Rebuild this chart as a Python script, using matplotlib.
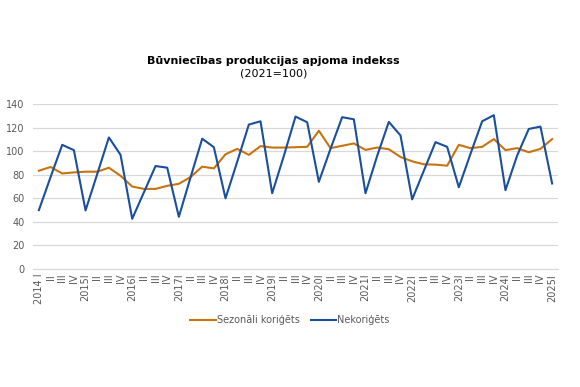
import numpy as np
import matplotlib.pyplot as plt

# quarterly labels 2014 I .. 2025 I
years = list(range(2014, 2026))
quarters = ["I", "II", "III", "IV"]
labels = []
for y in years:
    for q in quarters:
        if y == 2025 and q != "I":
            break
        if q == "I":
            labels.append("2014 I" if y == 2014 else str(y) + "I")
        else:
            labels.append(q)

# Sezonāli koriģēts
sa = [83.4, 86.6, 81.1, 82.0, 82.6, 82.6, 86.0, 79.1, 70.0, 68.0, 68.0, 70.6,
      72.3, 78.0, 86.9, 85.4, 97.4, 102.0, 96.9, 104.3, 103.1, 103.1, 103.4, 103.7,
      117.4, 102.6, 104.6, 106.6, 101.1, 103.1, 101.7, 95.1, 91.4, 88.9, 88.6, 87.7,
      105.4, 102.6, 103.7, 110.3, 100.9, 102.6, 99.1, 102.0, 110.3]
# Nekoriģēts
nsa = [50.0, 78.0, 105.4, 100.9, 49.7, 80.6, 111.7, 96.9, 42.6, 65.0, 87.4, 86.0,
       44.3, 77.7, 110.6, 103.4, 60.0, 91.0, 122.6, 125.4, 64.3, 96.0, 129.4, 124.6,
       74.0, 102.0, 128.9, 127.1, 64.3, 96.0, 124.9, 113.4, 59.1, 83.4, 107.7, 103.7,
       69.4, 97.7, 125.4, 130.6, 66.9, 96.3, 118.9, 120.9, 72.6]

x = np.arange(len(labels))
orange = '#C8730F'
blue = '#1A4F9E'
gray = '#595959'

fig = plt.figure(figsize=(5.8, 3.87), dpi=100)
ax = fig.add_axes([0.057, 0.305, 0.905, 0.426])

ax.plot(x, sa, color=orange, lw=1.5, label='Sezonāli koriģēts')
ax.plot(x, nsa, color=blue, lw=1.5, label='Nekoriģēts')

ax.set_xlim(-0.5, len(labels) - 0.5)
ax.set_ylim(0, 140)
ax.set_yticks(range(0, 141, 20))
ax.grid(axis='y', color='#D9D9D9', lw=0.9)
ax.set_axisbelow(True)
for s in ['top', 'right', 'left']:
    ax.spines[s].set_visible(False)
ax.spines['bottom'].set_color('#D9D9D9')
ax.tick_params(axis='both', length=0, colors=gray, labelsize=7)
ax.tick_params(axis='y', pad=6)
ax.set_xticks(x)
ax.set_xticklabels(labels, rotation=90, fontsize=7, color=gray)

fig.text(0.472, 0.842, 'Būvniecības produkcijas apjoma indekss', ha='center',
         va='center', fontsize=8, fontweight='bold', color='black')
fig.text(0.472, 0.811, '(2021=100)', ha='center', va='center', fontsize=8, color='black')

fig.legend(loc='center', bbox_to_anchor=(0.5, 0.172), ncol=2, frameon=False,
           fontsize=7, handlelength=2.6, handletextpad=0.1, columnspacing=1.2,
           labelcolor=gray)

plt.savefig('out.png', dpi=100)
